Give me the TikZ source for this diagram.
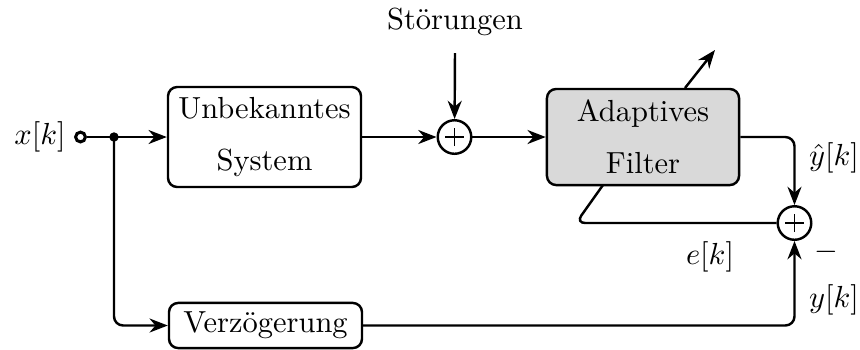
\documentclass[tikz,border=0pt]{standalone}
\usetikzlibrary{arrows.meta,calc}
\begin{document}
\begin{tikzpicture}[x=0.328pt,y=-0.328pt,
  line width=0.8pt,
  arr/.style={-{Stealth[length=6pt,width=4.6pt]}},
  blk/.style={draw,rounded corners=3pt,align=center,inner sep=0pt,line width=0.8pt},
  sumnode/.style={draw,circle,minimum size=11pt,inner sep=0pt,line width=0.8pt,
    path picture={\draw[line width=0.65pt] ($(path picture bounding box.center)+(-3pt,0)$) -- ($(path picture bounding box.center)+(3pt,0)$);
                  \draw[line width=0.65pt] ($(path picture bounding box.center)+(0,-3pt)$) -- ($(path picture bounding box.center)+(0,3pt)$);}},
  lbl/.style={inner sep=0pt}
]
\useasboundingbox (0,0) rectangle (860,349);

% nodes
\node[lbl] (xk) at (40,137) {$x[k]$};
\node[draw,circle,minimum size=3.2pt,inner sep=0pt,line width=1pt] (src) at (80.5,137) {};
\coordinate (split) at (114,137);
\fill (split) circle (1.55pt);

\node[blk,minimum width=63.3pt,minimum height=32.8pt] (sys) at (264.5,137) {Unbekanntes\\[5.2pt]System};
\node[sumnode] (sum1) at (454.5,137) {};
\node[lbl] (stoer) at (455,22) {St\"orungen};
\coordinate (stoerend) at (455,53);

\node[blk,fill=black!15,minimum width=63pt,minimum height=31.5pt] (filt) at (643,137) {Adaptives\\[5.2pt]Filter};
\coordinate (adtop) at (685,88);
\coordinate (adtip) at (715,50);

\node[sumnode] (sum2) at (794.5,223) {};
\node[blk,minimum width=63.3pt,minimum height=14.8pt] (delay) at (265.5,325.5) {Verz\"ogerung};

\coordinate (fbcorner) at (576,223);
\coordinate (fbend) at (603,185);

\node[lbl] (yhat) at (834,158) {$\hat{y}[k]$};
\node[lbl] (ek) at (710,257) {$e[k]$};
\node[lbl] (minus) at (826,252) {$-$};
\node[lbl] (yk) at (834,300) {$y[k]$};

% connectors
\draw (src) -- (split);
\draw[arr] (split) -- (sys);
\draw[arr] (sys) -- (sum1);
\draw[arr] (stoerend) -- (sum1);
\draw[arr] (sum1) -- (filt);
\draw[arr] (adtop) -- (adtip);
\draw[arr,rounded corners=3pt] (filt.east) -| (sum2.north);
\draw[rounded corners=3pt] (sum2.west) -- (fbcorner) -- (fbend);
\draw[arr,rounded corners=3pt] (split) |- (delay.west);
\draw[arr,rounded corners=3pt] (delay.east) -| (sum2.south);
\end{tikzpicture}
\end{document}
